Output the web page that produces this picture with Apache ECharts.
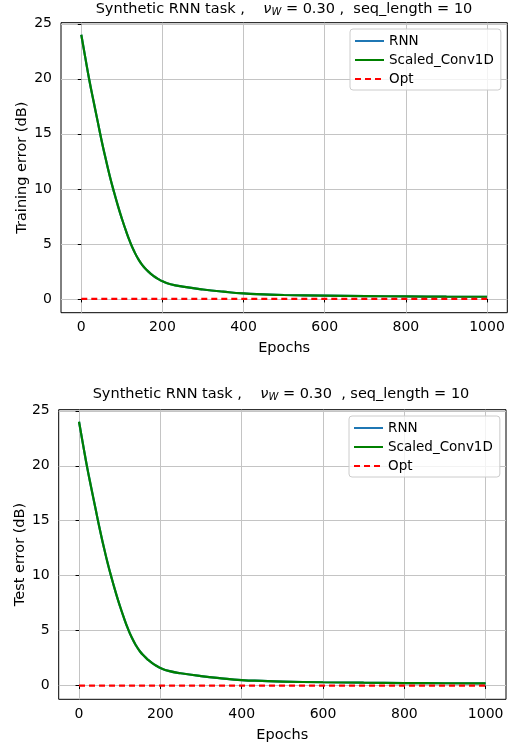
<!DOCTYPE html>
<html>
<head>
<meta charset="utf-8">
<script src="https://cdn.jsdelivr.net/npm/echarts@6/dist/echarts.min.js"></script>
<style>html,body{margin:0;padding:0;background:#fff;}#c{width:510px;height:744px;}</style>
</head>
<body>
<div id="c"></div>
<script>
// ---- data ----
const epochs = [0,10,20,30,40,50,60,70,80,90,100,110,120,130,140,150,160,170,180,190,200,220,250,300,350,400,450,500,600,700,800,900,1000];
const trainRNN = [24.0,21.9,19.85,18.0,16.2,14.4,12.75,11.2,9.8,8.5,7.3,6.2,5.2,4.35,3.65,3.1,2.68,2.33,2.04,1.8,1.6,1.34,1.12,0.86,0.66,0.5,0.42,0.36,0.3,0.26,0.23,0.21,0.2];
const trainConv = [24.0,21.9,19.85,18.0,16.2,14.4,12.75,11.2,9.8,8.5,7.3,6.2,5.2,4.35,3.65,3.1,2.68,2.33,2.04,1.8,1.6,1.34,1.12,0.86,0.66,0.5,0.42,0.36,0.3,0.26,0.23,0.21,0.2];
const testRNN = [24.0,21.9,19.85,18.0,16.2,14.4,12.75,11.2,9.8,8.5,7.3,6.2,5.2,4.35,3.65,3.1,2.68,2.33,2.04,1.8,1.6,1.34,1.12,0.86,0.66,0.5,0.42,0.36,0.3,0.26,0.23,0.21,0.2];
const testConv = [24.0,21.9,19.85,18.0,16.2,14.4,12.75,11.2,9.8,8.5,7.3,6.2,5.2,4.35,3.65,3.1,2.68,2.33,2.04,1.8,1.6,1.34,1.12,0.86,0.66,0.5,0.42,0.36,0.3,0.26,0.23,0.21,0.2];
const optEpochs = [0,1000];
const optVals = [0,0];
const xTicks = [0,200,400,600,800,1000];
const yTicks = [0,5,10,15,20,25];
const seriesNames = ['RNN','Scaled_Conv1D','Opt'];

// ---- chart ----
const FONT = 'DejaVu Sans';
const pairs = (xs, ys) => xs.map((x,i)=>[x, ys[i]]);
const chart = echarts.init(document.getElementById('c'), null, {renderer:'canvas'});

function xAxis(gi){
  return {
    type:'value', gridIndex:gi, min:-50, max:1050,
    name:'Epochs', nameLocation:'middle', nameGap:28,
    nameTextStyle:{fontFamily:FONT, fontSize:14.5, color:'#000'},
    axisLine:{show:false},
    axisTick:{show:true, length:3.5, lineStyle:{color:'#000', width:1}, customValues:xTicks},
    axisLabel:{fontFamily:FONT, fontSize:14, color:'#000', margin:8, customValues:xTicks, formatter:v=>String(v)},
    splitLine:{show:true, lineStyle:{color:'#c4c4c4', width:1}}
  };
}
function yAxis(gi, name, gap){
  return {
    type:'value', gridIndex:gi, min:-1.25, max:25.1,
    name:name, nameLocation:'middle', nameGap:gap, nameMoveOverlap:false,
    nameTextStyle:{fontFamily:FONT, fontSize:14.5, color:'#000'},
    axisLine:{show:false},
    axisTick:{show:true, length:3.5, lineStyle:{color:'#000', width:1}, customValues:yTicks},
    axisLabel:{fontFamily:FONT, fontSize:14, color:'#000', margin:9, customValues:yTicks, formatter:v=>String(v)},
    splitLine:{show:true, lineStyle:{color:'#c4c4c4', width:1}}
  };
}
function lineSeries(name, gi, xs, ys, color, dashed){
  return {
    type:'line', name:name, xAxisIndex:gi, yAxisIndex:gi,
    data:pairs(xs, ys), symbol:'none', showSymbol:false,
    smooth: dashed ? false : 0.5,
    lineStyle:{color:color, width:2.2, type: dashed ? [6,4] : 'solid'},
    itemStyle:{color:color},
    animation:false, z: dashed ? 4 : 3
  };
}
function legend(left, top){
  return {
    data:seriesNames, orient:'vertical', left:left, top:top,
    itemWidth:29, itemHeight:14, itemGap:5,
    padding:[5,7,4,4],
    backgroundColor:'rgba(255,255,255,0.8)', borderColor:'#cccccc', borderWidth:1, borderRadius:3,
    itemStyle:{opacity:0},
    textStyle:{fontFamily:FONT, fontSize:13.5, color:'#000', lineHeight:14},
    selectedMode:false
  };
}
function titleText(x, y, tail){
  return {
    type:'text', x:x, y:y,
    style:{
      text:'{a|Synthetic RNN task ,    }{nu|ν}{sub|W}{a|' + tail + '}',
      align:'center', verticalAlign:'middle',
      fontFamily:FONT, fontSize:14.5, fill:'#000',
      rich:{
        a:{fontFamily:FONT, fontSize:14.5, fill:'#000', lineHeight:17, verticalAlign:'middle'},
        nu:{fontFamily:FONT, fontSize:14.5, fontStyle:'italic', fill:'#000', lineHeight:17, verticalAlign:'middle'},
        sub:{fontFamily:FONT, fontSize:10, fontStyle:'italic', fill:'#000', lineHeight:8, verticalAlign:'bottom'}
      }
    }
  };
}

const option = {
  animation:false,
  backgroundColor:'#fff',
  grid:[
    {left:61, top:22.7, width:446.3, height:290, show:true, borderColor:'#000', borderWidth:1, containLabel:false},
    {left:58.7, top:409.7, width:447.3, height:289.6, show:true, borderColor:'#000', borderWidth:1, containLabel:false}
  ],
  xAxis:[xAxis(0), xAxis(1)],
  yAxis:[yAxis(0,'Training error (dB)',31), yAxis(1,'Test error (dB)',31)],
  legend:[legend(350,29), legend(349,416)],
  graphic:[
    titleText(284, 9, ' = 0.30 ,  seq_length = 10'),
    titleText(281, 394, ' = 0.30  , seq_length = 10')
  ],
  series:[
    lineSeries('RNN',0,epochs,trainRNN,'#1f77b4',false),
    lineSeries('Scaled_Conv1D',0,epochs,trainConv,'#008000',false),
    lineSeries('Opt',0,optEpochs,optVals,'#ff0000',true),
    lineSeries('RNN',1,epochs,testRNN,'#1f77b4',false),
    lineSeries('Scaled_Conv1D',1,epochs,testConv,'#008000',false),
    lineSeries('Opt',1,optEpochs,optVals,'#ff0000',true)
  ]
};
chart.setOption(option);
</script>
</body>
</html>
